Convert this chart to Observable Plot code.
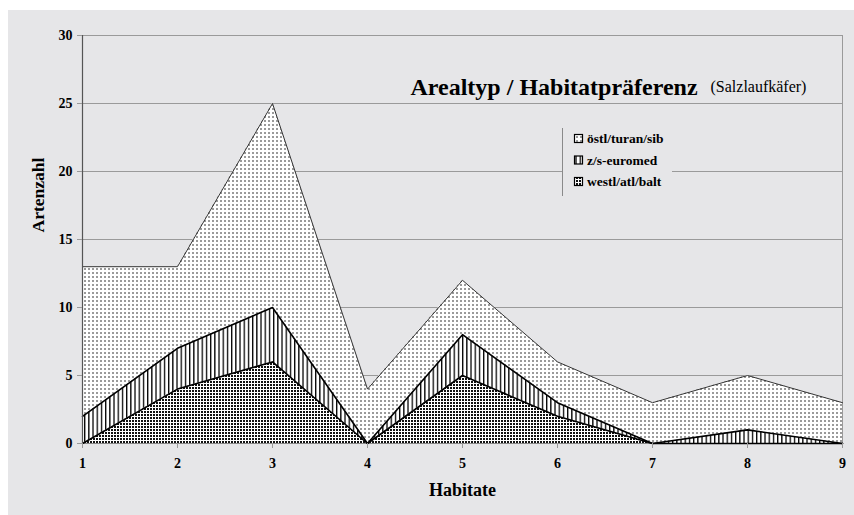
<!DOCTYPE html>
<html>
<head>
<meta charset="utf-8">
<script src="https://cdn.jsdelivr.net/npm/d3@7"></script>
<script src="https://cdn.jsdelivr.net/npm/@observablehq/plot@0.6"></script>
<style>
  html, body { margin: 0; padding: 0; background: #ffffff; }
  #wrap { position: relative; width: 854px; height: 515px; overflow: hidden; }
  #bg { position: absolute; left: 8px; top: 10px; right: 0; bottom: 0; background: #e6e6e8; }
  #chart { position: absolute; left: 0; top: 0; }
</style>
</head>
<body>
<div id="wrap"><div id="bg"></div><div id="chart"></div></div>
<script>
// ---- data ----
const habitats = [1, 2, 3, 4, 5, 6, 7, 8, 9];
const seriesNames = ["westl/atl/balt", "z/s-euromed", "östl/turan/sib"];
const westl = [0, 4, 6, 0, 5, 2, 0, 0, 0];
const zsEuromed = [2, 3, 4, 0, 3, 1, 0, 1, 0];
const oestl = [11, 6, 15, 4, 4, 3, 3, 4, 3];
const yTicks = [0, 5, 10, 15, 20, 25, 30];
const legendOrder = ["östl/turan/sib", "z/s-euromed", "westl/atl/balt"];
const patternIds = ["pBlack", "pVert", "pGray"];

const valuesBySeries = [westl, zsEuromed, oestl];
const data = [];
seriesNames.forEach((s, i) => valuesBySeries[i].forEach((v, j) => data.push({habitat: habitats[j], series: s, value: v})));

const serif = "Liberation Serif";

const svg = Plot.plot({
  width: 854,
  height: 515,
  marginLeft: 82,
  marginRight: 12,
  marginTop: 35,
  marginBottom: 72,
  style: {background: "transparent", fontFamily: serif, fontWeight: "bold", fontSize: "14px", color: "#000"},
  x: {domain: [1, 9]},
  y: {domain: [0, 30]},
  color: {domain: seriesNames, range: patternIds.map(id => `url(#${id})`)},
  marks: [
    Plot.ruleY(yTicks.filter(d => d > 0), {stroke: "#9a9a9a", strokeWidth: 1}),
    Plot.areaY(data, {x: "habitat", y: "value", z: "series", fill: "series"}),
    Plot.ruleY([0], {stroke: "#888"}),
    Plot.ruleX([9], {y1: 0, y2: 30, stroke: "#9a9a9a"}),
    Plot.lineY(data, Plot.stackY2({
      x: "habitat", y: "value", z: "series",
      stroke: d => d.series === seriesNames[2] ? "#333333" : "#000000",
      strokeWidth: d => d.series === seriesNames[2] ? 1 : 1.6
    })),
    Plot.ruleX([1], {y1: 0, y2: 30, stroke: "#555", strokeWidth: 1.2}),
    Plot.axisY({ticks: yTicks, tickSize: 5, tickPadding: 5, stroke: "#999", label: null, fontSize: 14, fontWeight: "bold", fontFamily: serif}),
    Plot.axisX({ticks: habitats, tickSize: 5, tickPadding: 10, tickFormat: d => String(d), stroke: "#999", label: null, fontSize: 14, fontWeight: "bold", fontFamily: serif}),
    Plot.text(["Habitate"], {text: d => d, frameAnchor: "bottom", dy: 52, fontSize: 18, fontWeight: "bold", fontFamily: serif}),
    Plot.text(["Artenzahl"], {text: d => d, frameAnchor: "left", rotate: -90, dx: -44, dy: -7, fontSize: 17.5, fontWeight: "bold", fontFamily: serif}),
    Plot.text(["Arealtyp / Habitatpräferenz"], {text: d => d, frameAnchor: "top-left", textAnchor: "start", dx: 328, dy: 42, fontSize: 24, fontWeight: "bold", fontFamily: serif}),
    Plot.text(["(Salzlaufkäfer)"], {text: d => d, frameAnchor: "top-left", textAnchor: "start", dx: 628, dy: 45, fontSize: 16, fontWeight: "normal", fontFamily: serif})
  ]
});

// patterns
const s = d3.select(svg);
const defs = s.insert("defs", ":first-child");
// black dense dots
const pb = defs.append("pattern").attr("id", "pBlack").attr("patternUnits", "userSpaceOnUse").attr("width", 3).attr("height", 3);
pb.append("rect").attr("width", 3).attr("height", 3).attr("fill", "#fff");
pb.append("rect").attr("width", 2).attr("height", 2).attr("fill", "#111");
// vertical lines
const pv = defs.append("pattern").attr("id", "pVert").attr("patternUnits", "userSpaceOnUse").attr("width", 4.2).attr("height", 4);
pv.append("rect").attr("width", 4.2).attr("height", 4).attr("fill", "#fff");
pv.append("rect").attr("width", 1.3).attr("height", 4).attr("fill", "#000");
// gray dots
const pg = defs.append("pattern").attr("id", "pGray").attr("patternUnits", "userSpaceOnUse").attr("width", 4).attr("height", 4);
pg.append("rect").attr("width", 4).attr("height", 4).attr("fill", "#fff");
pg.append("rect").attr("width", 2).attr("height", 2).attr("fill", "#9a9a9a");

// legend
const lg = s.append("g").attr("font-family", serif).attr("font-weight", "bold").attr("font-size", "13.5px").attr("text-anchor", "start");
lg.append("rect").attr("x", 562).attr("y", 128).attr("width", 110).attr("height", 68).attr("fill", "#e6e6e8");
lg.append("line").attr("x1", 562.5).attr("x2", 562.5).attr("y1", 128).attr("y2", 196).attr("stroke", "#8a8a8a");
legendOrder.forEach((name, i) => {
  const cy = 139 + i * 21.5;
  const idx = seriesNames.indexOf(name);
  lg.append("rect").attr("x", 574.5).attr("y", cy - 4.5).attr("width", 8).attr("height", 8)
    .attr("fill", `url(#${patternIds[idx]})`).attr("stroke", "#000").attr("stroke-width", 1.2);
  lg.append("text").attr("x", 587).attr("y", cy).attr("dy", "0.33em").attr("fill", "#000").attr("text-anchor", "start").text(name);
});

document.getElementById("chart").appendChild(svg);
</script>
</body>
</html>
